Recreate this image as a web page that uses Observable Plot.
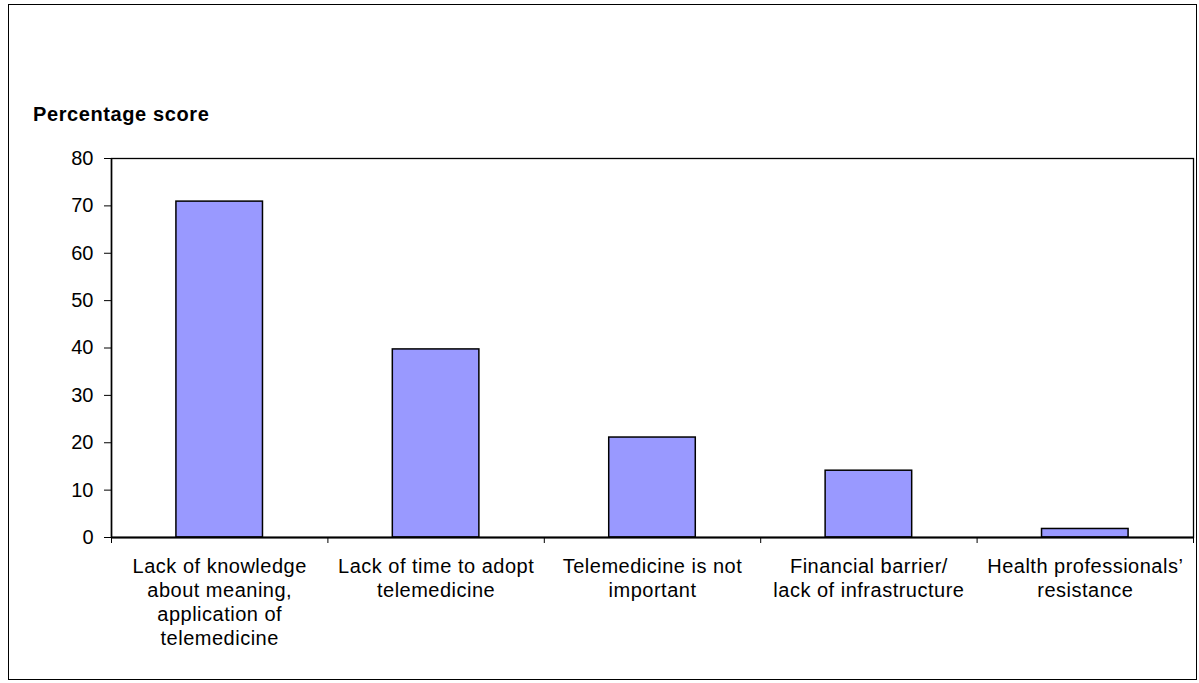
<!DOCTYPE html>
<html>
<head>
<meta charset="utf-8">
<script src="https://cdn.jsdelivr.net/npm/d3@7"></script>
<script src="https://cdn.jsdelivr.net/npm/@observablehq/plot@0.6"></script>
<style>
  html, body { margin: 0; padding: 0; background: #fff; }
  #wrap { position: relative; width: 1199px; height: 683px; overflow: hidden; }
  #chart { position: absolute; left: 0; top: 0; }
  #border { position: absolute; left: 8px; top: 4px; width: 1187px; height: 674px; border: 1.5px solid #000; pointer-events: none; }
  #title { position: absolute; left: 33px; top: 103px; font: bold 20px "Liberation Sans", Arial, sans-serif; letter-spacing: 0.6px; color: #000; z-index: 2; }
  .xlab text { letter-spacing: 0.5px; }
</style>
</head>
<body>
<div id="wrap">
  <div id="chart"></div>
  <div id="title">Percentage score</div>
  <div id="border"></div>
</div>
<script>
const categories = [
  "Lack of knowledge\nabout meaning,\napplication of\ntelemedicine",
  "Lack of time to adopt\ntelemedicine",
  "Telemedicine is not\nimportant",
  "Financial barrier/\nlack of infrastructure",
  "Health professionals’\nresistance"
];
const values = [70.9, 39.7, 21.1, 14.1, 1.8];
const yTicks = [0, 10, 20, 30, 40, 50, 60, 70, 80];

const data = categories.map((c, i) => ({category: c, index: i, value: values[i]}));
const boundaries = d3.range(categories.length + 1);

const chart = Plot.plot({
  width: 1199,
  height: 683,
  marginLeft: 111,
  marginRight: 6,
  marginTop: 158,
  marginBottom: 146,
  style: {fontFamily: "'Liberation Sans', Arial, sans-serif", fontSize: "20px", color: "#000", background: "transparent"},
  x: {type: "linear", domain: [0, categories.length], axis: null},
  y: {type: "linear", domain: [0, 80], axis: null},
  marks: [
    Plot.rectY(data, {x1: d => d.index + 0.3, x2: d => d.index + 0.7, y: "value", fill: "#9999FF", stroke: "#000", strokeWidth: 1.5}),
    Plot.frame({stroke: "#000", strokeWidth: 1.3}),
    Plot.axisY({ticks: yTicks, tickSize: 7, tickPadding: 11, label: null, fontSize: "20px", stroke: "#000"}),
    Plot.axisX({ticks: boundaries, tickSize: 6, tickFormat: () => "", label: null, stroke: "#000"}),
    Plot.ruleX([0], {stroke: "#000", strokeWidth: 1.5}),
    Plot.ruleY([0], {stroke: "#000", strokeWidth: 2}),
    Plot.text(data, {x: d => d.index + 0.5, y: 0, text: "category", lineAnchor: "top", dy: 18, lineHeight: 1.2, fontSize: "20px", fill: "#000", textAnchor: "middle", className: "xlab"})
  ]
});
document.getElementById("chart").appendChild(chart);
</script>
</body>
</html>
